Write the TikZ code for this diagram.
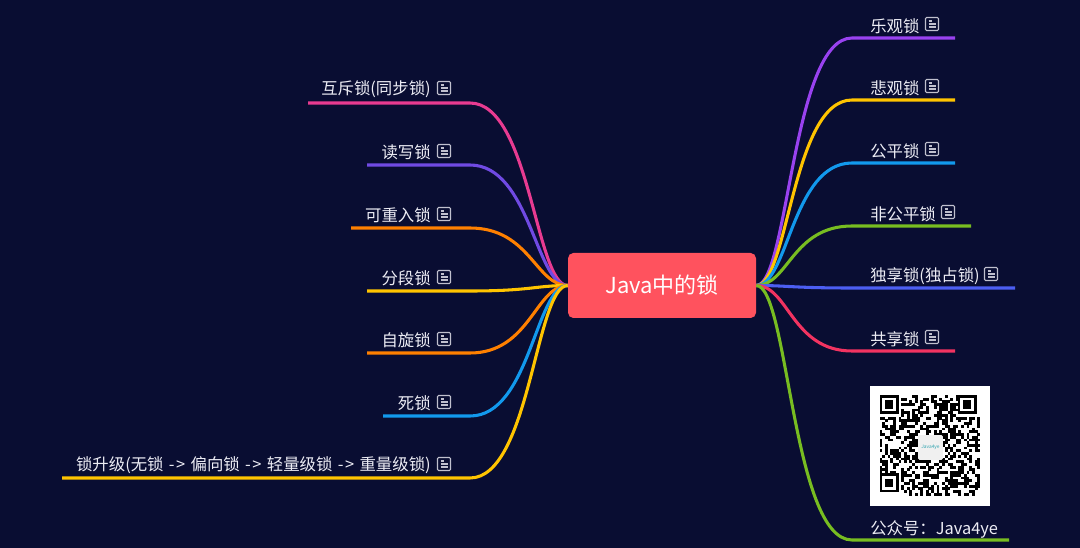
\documentclass[tikz,border=0pt]{standalone}
\usepackage{fontspec}
\setmainfont{Noto Sans CJK SC}
\usepackage{xcolor}
\usetikzlibrary{calc}
\definecolor{nightblue}{rgb}{0.035,0.05,0.195}
\definecolor{rootred}{rgb}{1.0,0.32,0.37}
\definecolor{labelgray}{rgb}{0.93,0.93,0.96}
\definecolor{pinkline}{rgb}{0.91,0.23,0.57}
\definecolor{violetline}{rgb}{0.44,0.29,0.89}
\definecolor{orangeline}{rgb}{1.0,0.5,0.0}
\definecolor{yellowline}{rgb}{1.0,0.77,0.0}
\definecolor{blueline}{rgb}{0.07,0.6,0.93}
\definecolor{purpleline}{rgb}{0.6,0.26,0.94}
\definecolor{greenline}{rgb}{0.47,0.74,0.13}
\definecolor{indigoline}{rgb}{0.3,0.37,0.95}
\definecolor{crimsonline}{rgb}{0.95,0.2,0.38}
\newcommand{\upgradearrow}{\hspace{4pt}-\kern1.2pt>\hspace{4pt}}
\tikzset{
  x=0.75pt, y=-0.75pt,
  rootbox/.style={fill=rootred, text=white, rounded corners=4pt, minimum width=141pt, minimum height=48.75pt, font=\fontsize{16.5}{20}\selectfont},
  branch/.style={line width=2.3pt},
  leftlabel/.style={anchor=east, inner sep=0pt, text=labelgray, font=\fontsize{12.3}{14}\selectfont},
  rightlabel/.style={anchor=west, inner sep=0pt, text=labelgray, font=\fontsize{12.3}{14}\selectfont},
  noteicon/.pic={
    \draw[labelgray!80!nightblue, line width=0.8pt, rounded corners=0.8pt] (-6.5,-6.5) rectangle (6.5,6.5);
    \draw[labelgray!80!nightblue, line width=0.8pt] (-3.5,-3) -- (0,-3) (-3.5,0) -- (3.5,0) (-3.5,3) -- (3.5,3);
  },
}
\begin{document}
\begin{tikzpicture}
\fill[nightblue] (0,0) rectangle (1080,548);
\useasboundingbox (0,0) rectangle (1080,548);

%%%%%%%%%%%%%%%%%%%%%%%%%%%%%%%%%%%%%%%%%%%%%%%%%%%%%%%%%%%%%% Root
\node[rootbox] (root) at (662,285.5) {Java中的锁};

%%%%%%%%%%%%%%%%%%%%%%%%%%%%%%%%%%%%%%%%%%%%%%%%%%%%%%%%%%%%%% Left side
\coordinate (bendA) at (470,103);
\coordinate (endA) at (308,103);
\draw[branch, pinkline] (root.west) .. controls ($(root.west)+(-32,0)$) and ($(bendA)+(60,0)$) .. (bendA) -- (endA);
\node[leftlabel] (mutex) at (431,89) {互斥锁(同步锁)};
\pic at (444,88) {noteicon};

\coordinate (bendB) at (470,165);
\coordinate (endB) at (367,165);
\draw[branch, violetline] (root.west) .. controls ($(root.west)+(-32,0)$) and ($(bendB)+(60,0)$) .. (bendB) -- (endB);
\node[leftlabel] (rwlock) at (431,152) {读写锁};
\pic at (444,151) {noteicon};

\coordinate (bendC) at (470,228);
\coordinate (endC) at (351,228);
\draw[branch, orangeline] (root.west) .. controls ($(root.west)+(-32,0)$) and ($(bendC)+(60,0)$) .. (bendC) -- (endC);
\node[leftlabel] (reentrant) at (431,215) {可重入锁};
\pic at (444,214) {noteicon};

\coordinate (bendD) at (470,291);
\coordinate (endD) at (367,291);
\draw[branch, yellowline] (root.west) .. controls ($(root.west)+(-32,0)$) and ($(bendD)+(60,0)$) .. (bendD) -- (endD);
\node[leftlabel] (segment) at (431,278) {分段锁};
\pic at (444,277) {noteicon};

\coordinate (bendE) at (470,353);
\coordinate (endE) at (367,353);
\draw[branch, orangeline] (root.west) .. controls ($(root.west)+(-32,0)$) and ($(bendE)+(60,0)$) .. (bendE) -- (endE);
\node[leftlabel] (spin) at (431,340) {自旋锁};
\pic at (444,339) {noteicon};

\coordinate (bendF) at (470,416);
\coordinate (endF) at (383,416);
\draw[branch, blueline] (root.west) .. controls ($(root.west)+(-32,0)$) and ($(bendF)+(60,0)$) .. (bendF) -- (endF);
\node[leftlabel] (deadlock) at (431,403) {死锁};
\pic at (444,402) {noteicon};

\coordinate (bendG) at (470,478);
\coordinate (endG) at (62,478);
\draw[branch, yellowline] (root.west) .. controls ($(root.west)+(-32,0)$) and ($(bendG)+(60,0)$) .. (bendG) -- (endG);
\node[leftlabel] (upgrade) at (431,465) {锁升级(无锁\upgradearrow 偏向锁\upgradearrow 轻量级锁\upgradearrow 重量级锁)};
\pic at (444,464) {noteicon};

%%%%%%%%%%%%%%%%%%%%%%%%%%%%%%%%%%%%%%%%%%%%%%%%%%%%%%%%%%%%%% Right side
\coordinate (bendH) at (852,38);
\coordinate (endH) at (955,38);
\draw[branch, purpleline] (root.east) .. controls ($(root.east)+(32,0)$) and ($(bendH)+(-60,0)$) .. (bendH) -- (endH);
\node[rightlabel] (optimistic) at (870,26) {乐观锁};
\pic at (932,24) {noteicon};

\coordinate (bendI) at (852,100);
\coordinate (endI) at (955,100);
\draw[branch, yellowline] (root.east) .. controls ($(root.east)+(32,0)$) and ($(bendI)+(-60,0)$) .. (bendI) -- (endI);
\node[rightlabel] (pessimistic) at (870,88) {悲观锁};
\pic at (932,86) {noteicon};

\coordinate (bendJ) at (852,163);
\coordinate (endJ) at (955,163);
\draw[branch, blueline] (root.east) .. controls ($(root.east)+(32,0)$) and ($(bendJ)+(-60,0)$) .. (bendJ) -- (endJ);
\node[rightlabel] (fair) at (870,151) {公平锁};
\pic at (932,149) {noteicon};

\coordinate (bendK) at (852,226);
\coordinate (endK) at (971,226);
\draw[branch, greenline] (root.east) .. controls ($(root.east)+(32,0)$) and ($(bendK)+(-60,0)$) .. (bendK) -- (endK);
\node[rightlabel] (unfair) at (870,214) {非公平锁};
\pic at (948,212) {noteicon};

\coordinate (bendL) at (852,288);
\coordinate (endL) at (1015,288);
\draw[branch, indigoline] (root.east) .. controls ($(root.east)+(32,0)$) and ($(bendL)+(-60,0)$) .. (bendL) -- (endL);
\node[rightlabel] (exclusive) at (870,276) {独享锁(独占锁)};
\pic at (991,274) {noteicon};

\coordinate (bendM) at (852,351);
\coordinate (endM) at (955,351);
\draw[branch, crimsonline] (root.east) .. controls ($(root.east)+(32,0)$) and ($(bendM)+(-60,0)$) .. (bendM) -- (endM);
\node[rightlabel] (shared) at (870,339) {共享锁};
\pic at (932,337) {noteicon};

\coordinate (bendN) at (852,540);
\coordinate (endN) at (1009,540);
\draw[branch, greenline] (root.east) .. controls ($(root.east)+(32,0)$) and ($(bendN)+(-60,0)$) .. (bendN) -- (endN);
\node[rightlabel] (account) at (870,529) {公众号：Java4ye};

%%%%%%%%%%%%%%%%%%%%%%%%%%%%%%%%%%%%%%%%%%%%%%%%%%%%%%%%%%%%%% QR code
\fill[white] (870,386) rectangle (990,506);
\pgfmathsetseed{4711}
\foreach \i in {0,...,36}
  \foreach \j in {0,...,36}{
    \pgfmathparse{rnd<0.5 ? 1 : 0}
    \ifnum\pgfmathresult=1
      \pgfmathparse{(\i<8 && \j<8) || (\i>28 && \j<8) || (\i<8 && \j>28) ? 0 : 1}
      \ifnum\pgfmathresult=1
        \fill[black] (879.5+2.72*\i,395+2.72*\j) rectangle +(2.8,2.8);
      \fi
    \fi
  }
% finder squares
\foreach \fx/\fy in {879.5/395, 957.7/395, 879.5/473.2}{
  \fill[black] (\fx,\fy) rectangle +(19,19);
  \fill[white] (\fx+2.7,\fy+2.7) rectangle +(13.6,13.6);
  \fill[black] (\fx+5.4,\fy+5.4) rectangle +(8.2,8.2);
}
\node[fill=white!94!black, rounded corners=1pt, minimum size=18.5pt, inner sep=0pt, text=blueline!70!greenline, font=\fontsize{3.6}{4}\selectfont] (logo) at (930.5,447.5) {Java4ye};
\end{tikzpicture}
\end{document}
